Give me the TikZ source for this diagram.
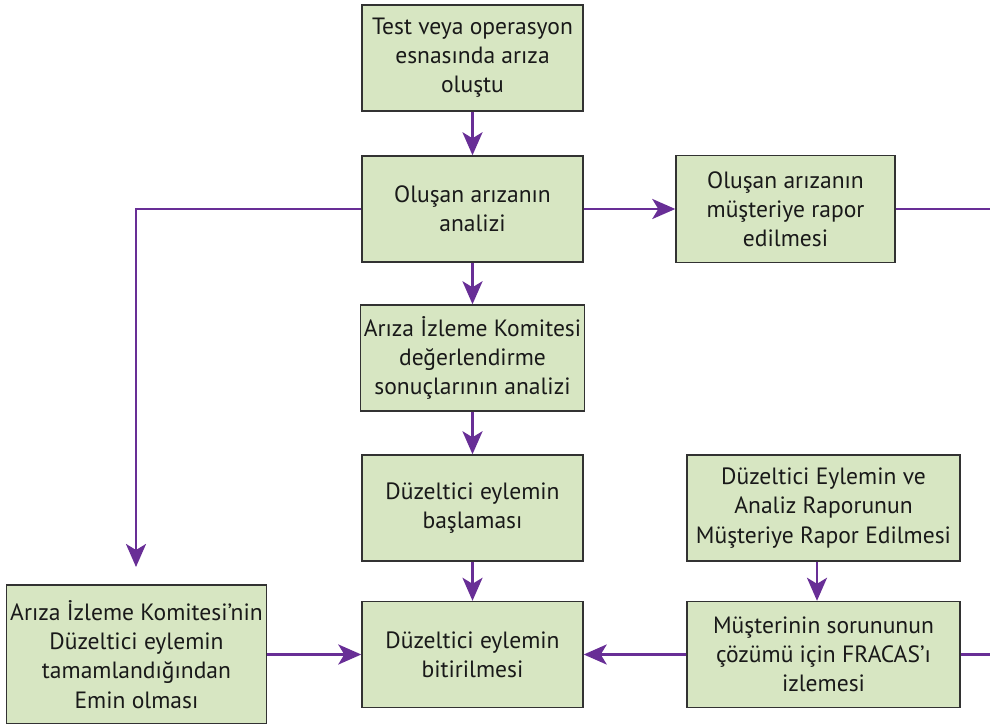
\documentclass[tikz,border=0pt]{standalone}
\usepackage{fontspec}
\setmainfont{PT Sans}
\usetikzlibrary{arrows.meta,positioning}
\definecolor{boxgreen} {RGB}{215,230,194}
\definecolor{boxedge}  {RGB}{50,50,50}
\definecolor{flowpurple}{RGB}{104,46,150}

\begin{document}
\begin{tikzpicture}[
  every node/.style={font=\fontsize{13.4}{16.6}\selectfont,text=black!90},
  stage/.style={draw=boxedge,line width=0.8pt,fill=boxgreen,align=center,
                minimum width=4.42cm,minimum height=2.12cm,inner sep=2pt},
  widestage/.style={stage,minimum width=5.46cm},
  arr/.style={-{Stealth[length=4.6mm,width=4mm,inset=1.2mm]},line width=1.6pt,flowpurple},
  ln/.style={line width=1.6pt,flowpurple},
]
\useasboundingbox (0,0) rectangle (19.8,14.46);

%% ── Main column ─────────────────────────────────────────────────────────
\node[stage] (fault) at (9.45,13.3)
  {Test veya operasyon\\esnasında arıza\\oluştu};
\node[stage] (analysis) at (9.45,10.28)
  {Oluşan arızanın\\analizi};
\node[stage] (review) at (9.45,7.3)
  {Arıza İzleme Komitesi\\değerlendirme\\sonuçlarının analizi};
\node[stage] (start) at (9.45,4.3)
  {Düzeltici eylemin\\başlaması};
\node[stage] (finish) at (9.45,1.37)
  {Düzeltici eylemin\\bitirilmesi};

%% ── Customer side ───────────────────────────────────────────────────────
\node[stage,minimum width=4.38cm,minimum height=2.14cm] (report) at (15.71,10.28)
  {Oluşan arızanın\\müşteriye rapor\\edilmesi};
\node[widestage] (custreport) at (16.47,4.3)
  {Düzeltici Eylemin ve\\Analiz Raporunun\\Müşteriye Rapor Edilmesi};
\node[widestage] (fracas) at (16.47,1.37)
  {Müşterinin sorununun\\çözümü için FRACAS’ı\\izlemesi};

%% ── Committee check ─────────────────────────────────────────────────────
\node[stage,minimum width=5.14cm,minimum height=2.78cm] (confirm) at (2.73,1.37)
  {Arıza İzleme Komitesi’nin\\Düzeltici eylemin\\tamamlandığından\\Emin olması};

%% helper points
\coordinate (bend)   at (2.72,10.28);
\coordinate (drop)   at (2.72,3.12);
\coordinate (exitup) at (19.8,10.28);
\coordinate (exitlo) at (19.8,1.37);

%% ── Connections ─────────────────────────────────────────────────────────
\draw[arr] (fault.south) -- (analysis.north);
\draw[arr] (analysis.south) -- (review.north);
\draw[arr] (review.south) -- (start.north);
\draw[arr] (start.south) -- (finish.north);
\draw[arr] (analysis.east) -- (report.west);
\draw[ln]  (report.east) -- (exitup);
\draw[arr] (analysis.west) -- (bend) -- (drop);
\draw[arr] (confirm.east) -- (finish.west);
\draw[arr] (fracas.west) -- (finish.east);
\draw[arr] ([xshift=-1.3mm]custreport.south) -- ([xshift=-1.3mm]fracas.north);
\draw[ln]  (fracas.east) -- (exitlo);

\end{tikzpicture}
\end{document}
